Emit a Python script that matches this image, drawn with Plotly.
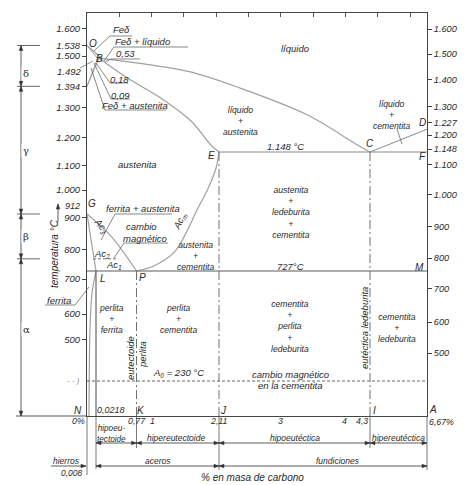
import numpy as np
import plotly.graph_objects as go

# ---------------- data ----------------
# schematic (non-linear) scales of the original drawing: value -> drawing unit
scale_c = [0, 0.0218, 0.09, 0.18, 0.53, 0.77, 1, 2.11, 3, 4, 4.3, 6.67]
scale_cu = [0, 9, 10.5, 12, 14.5, 49.5, 65, 132, 193, 257, 283, 340]
scale_t = [0, 230, 500, 600, 700, 800, 900, 1000, 1100, 1200, 1300, 1400, 1500, 1600, 1700]
scale_tu = [0, 35, 76.7, 102, 137, 166.7, 198.7, 226, 250.4, 278.7, 308.4, 331, 360, 387.7, 415.4]
scale_right_t = [0, 500, 600, 700, 800, 900, 1000, 1100, 1148, 1200, 1227, 1300, 1400, 1500, 1600, 1700]
scale_right_tu = [0, 63, 94, 127.3, 158, 189.3, 221.3, 251.3, 267, 281, 293.5, 309.3, 336.3, 362, 387, 412]

left_ticks = [1600, 1538, 1500, 1394, 1300, 1200, 1100, 1000, 900, 800, 700, 600, 500]
right_ticks = [1600, 1500, 1400, 1300, 1227, 1200, 1148, 1100, 1000, 900, 800, 700, 600, 500]
carbon_ticks = [0, 0.77, 1, 2.11, 3, 4, 4.3, 6.67]
carbon_labels = ["0%", "0,77", "1", "2,11", "3", "4", "4,3", "6,67%"]

# phase boundaries (carbon %, °C)
liq_ob_c, liq_ob_t = [0, 0.53], [1538, 1492]
liq_bc_c = [0.53, 1.60, 2.43, 3.44, 4.16, 4.3]
liq_bc_t = [1492, 1447, 1385, 1274, 1172, 1148]
liq_cd_c, liq_cd_t = [4.3, 6.67], [1148, 1227]
sol_c = [0.18, 0.71, 1.10, 1.65, 1.98, 2.11]
sol_t = [1492, 1423, 1350, 1254, 1172, 1148]
acm_c = [0.77, 1.02, 1.38, 1.76, 1.93, 2.06, 2.11]
acm_t = [727, 743, 793, 933, 1007, 1089, 1148]
ac3_c, ac3_t = [0, 0.595, 0.77], [912, 841, 727]
gp_c, gp_t = [0, 0.0218], [912, 727]
pq_c = [0.0218, 0.0121, 0.0073, 0.0048]
pq_t = [727, 659, 543, 0]
oh_c, oh_t = [0, 0.09], [1538, 1492]
nh_c, nh_t = [0, 0.09], [1394, 1492]
nj_c, nj_t = [0, 0.18], [1394, 1492]
hb_c, hb_t = [0.09, 0.53], [1492, 1492]
eutectic_c, eutectic_t = [2.11, 6.67], [1148, 1148]
eutectoid_c, eutectoid_t = [0, 6.67], [727, 727]
a0_c, a0_t = [0, 6.67], [230, 230]
a2_c, a2_t = [0.0145, 0.643], [768, 768]
v_l_c, v_l_t = [0.0218, 0.0218], [727, 0]
v_p_c, v_p_t = [0.77, 0.77], [727, 0]
v_e_c, v_e_t = [2.11, 2.11], [1148, 0]
v_c_c, v_c_t = [4.3, 4.3], [1148, 0]

W, H = 340.0, 403.0
INK = "#2a2a2a"
FONT = "Liberation Sans Narrow, Liberation Sans, Arial"


def wx(c):
    return np.interp(np.asarray(c, float), scale_c, scale_cu)


def wy(t):
    return np.interp(np.asarray(t, float), scale_t, scale_tu)


def wyr(t):
    return np.interp(np.asarray(t, float), scale_right_t, scale_right_tu)


def P(px, py):  # layout position of the drawing -> paper coords
    return ((px - 79) / W, (408 - py) / H)


def D(c, t):  # data -> paper coords
    return (float(wx(c)) / W, float(wy(t)) / H)


fig = go.Figure()


def add_line(c, t, color="#9a9a9a", width=1.2, dash="solid", shape="linear"):
    fig.add_trace(go.Scatter(x=wx(c), y=wy(t), mode="lines",
                             line=dict(color=color, width=width, dash=dash, shape=shape, smoothing=0.9),
                             hoverinfo="skip", showlegend=False))


CURVE = "#a0a0a0"
DARK = "#5a5a5a"
add_line(liq_ob_c, liq_ob_t, CURVE)
add_line(liq_bc_c, liq_bc_t, CURVE, shape="spline")
add_line(liq_cd_c, liq_cd_t, "#8a8a8a", 1.0)
add_line(sol_c, sol_t, CURVE, shape="spline")
add_line(acm_c, acm_t, CURVE, shape="spline")
add_line(ac3_c, ac3_t, CURVE, shape="spline")
add_line(gp_c, gp_t, CURVE)
add_line(pq_c, pq_t, CURVE, shape="spline")
for c, t in [(oh_c, oh_t), (nh_c, nh_t), (nj_c, nj_t), (hb_c, hb_t)]:
    add_line(c, t, CURVE, 1.0)
add_line(eutectic_c, eutectic_t, "#8a8a8a", 1.1)
add_line(eutectoid_c, eutectoid_t, DARK, 1.1)
add_line(a0_c, a0_t, "#555555", 0.9, dash="3px,2px")
add_line(a2_c, a2_t, "#666666", 0.9, dash="3px,2px")
add_line(v_l_c, v_l_t, DARK, 1.1)
for c, t in [(v_p_c, v_p_t), (v_e_c, v_e_t), (v_c_c, v_c_t)]:
    add_line(c, t, "#707070", 1.0, dash="9px,3px,2px,3px")

# dummy trace to activate top and right axes
fig.add_trace(go.Scatter(x=[0], y=[0], xaxis="x2", yaxis="y2", mode="markers",
                         marker=dict(opacity=0), hoverinfo="skip", showlegend=False))

ann = []
shapes = []


def txt(px, py, text, size=9.5, angle=0, xanchor="center", color=INK, italic=True, family=FONT):
    x, y = P(px, py)
    if italic:
        text = "<i>" + text.replace("<br>", "</i><br><i>") + "</i>"
    ann.append(dict(x=x, y=y, xref="paper", yref="paper", text=text, showarrow=False,
                    xanchor=xanchor, yanchor="middle", textangle=angle,
                    font=dict(size=size, color=color, family=family)))


def txt_data(c, py, text, **kw):
    px = float(wx(c)) + 79
    txt(px, py, text, **kw)


def stack(px, pys, lines, size=8.6):
    txt(px, sum(pys) / len(pys), "<br>".join(lines), size=size)


def poly(points, color="#6a6a6a", width=0.8, dash="solid"):
    path = "M " + " L ".join(f"{x:.5f},{y:.5f}" for x, y in points)
    shapes.append(dict(type="path", path=path, xref="paper", yref="paper",
                       line=dict(color=color, width=width, dash=dash)))


def seg(p0, p1, color="#444444", width=0.9):
    shapes.append(dict(type="line", x0=p0[0], y0=p0[1], x1=p1[0], y1=p1[1], xref="paper", yref="paper",
                       line=dict(color=color, width=width)))


def head(tip, tail, color="#333333", length=5.0, half=1.8):
    # filled arrowhead at tip, pointing away from tail (computed in pixels)
    dx = (tip[0] - tail[0]) * W
    dy = (tip[1] - tail[1]) * H
    n = (dx * dx + dy * dy) ** 0.5
    ux, uy = dx / n, dy / n
    bx, by = -ux * length, -uy * length
    px_, py_ = -uy * half, ux * half
    pts = [tip,
           (tip[0] + (bx + px_) / W, tip[1] + (by + py_) / H),
           (tip[0] + (bx - px_) / W, tip[1] + (by - py_) / H)]
    path = "M " + " L ".join(f"{x:.5f},{y:.5f}" for x, y in pts) + " Z"
    shapes.append(dict(type="path", path=path, xref="paper", yref="paper",
                       line=dict(color=color, width=0.5), fillcolor=color))


def arrow(tip, tail, color="#333333", width=0.8):
    seg(tail, tip, color=color, width=width)
    head(tip, tail, color=color)


def dim(a, b):
    seg(a, b, color="#333333", width=0.8)
    head(a, b)
    head(b, a)


# ---- region labels ----
txt(287, 41, "líquido")
stack(232, [104, 113, 122], ["líquido", "+", "austenita"])
txt(129, 156, "austenita")
stack(383, [99, 107, 116], ["líquido", "+", "cementita"])
txt(277, 138, "1.148 °C")
stack(283, [187, 196, 204, 213, 222], ["austenita", "+", "ledeburita", "+", "cementita"])
stack(187, [239, 248, 257], ["austenita", "+", "cementita"])
txt(282, 258, "727°C")
stack(103, [303, 311, 320], ["perlita", "+", "ferrita"])
stack(170, [303, 311, 319], ["perlita", "+", "cementita"])
stack(282, [301, 310, 318, 327, 335], ["cementita", "+", "perlita", "+", "ledeburita"])
stack(389, [311, 320, 328], ["cementita", "+", "ledeburita"])
txt(122, 350, "eutectoide", angle=-90)
txt(134, 347, "perlita", angle=-90)
txt(356, 320, "eutéctica ledeburita", angle=-90)
txt(170, 365, "A<sub>0</sub> = 230 °C")
txt(282, 366, "cambio magnético")
txt(282, 377, "en la cementita")

# point letters
for s, px, py in [("O", 85, 35), ("B", 91, 50), ("G", 84, 195), ("E", 203, 147), ("C", 362, 135),
                  ("D", 414, 114), ("F", 414, 148), ("M", 411, 259), ("L", 95, 270), ("P", 134, 269),
                  ("N", 70, 402), ("K", 133, 402), ("J", 215, 402), ("I", 366, 402), ("A", 425, 401)]:
    txt(px, py, s, size=10)
txt(103, 402, "0,0218", size=9)

# Ac labels
txt(93, 218, "Ac<sub>3</sub>", angle=52)
txt(172, 213, "Ac<sub>m</sub>", angle=-62)
txt(94, 246, "Ac<sub>2</sub>")
txt(106, 257, "Ac<sub>1</sub>")

# leader labels
txt(113, 21, "Feδ")
txt(134, 33, "Feδ + líquido")
txt(117, 46, "0,53")
txt(111, 71, "0,18")
txt(112, 87, "0,09")
txt(127, 98, "Feδ + austenita")
txt(75, 63, "1.492", xanchor="right")
txt(74, 198, "912", xanchor="right", size=9)
txt(135, 200, "ferrita + austenita")
txt(133, 218, "cambio")
txt(137, 230, "magnético")
txt(51, 292, "ferrita")
txt(65, 372, "‐ ‐ )", size=8, color="#888888")

poly([P(86, 43), P(102, 28), P(124, 28)])
poly([P(96, 53), P(106, 39), P(180, 39)])
poly([P(97, 54), P(103, 51), P(132, 51)])
poly([P(88, 55), P(102, 75), P(120, 75)])
poly([P(86, 55), P(103, 91), P(122, 91)])
poly([P(83, 60), P(97, 102), P(158, 102)])
poly([P(72, 60), P(85, 53)])
poly([P(93, 232), P(107, 206), P(164, 206)])
poly([P(106, 250), P(116, 235), P(160, 235)])
poly([P(37, 297), P(67, 297), P(81, 279)])
poly([P(389, 121), P(394, 136)])

# ---- bottom carbon labels ----
for c, s in zip(carbon_ticks, carbon_labels):
    if s in ("0%", "4,3"):
        txt_data(c, 413, s, size=8.8, xanchor="right")
    elif s == "6,67%":
        txt_data(c, 414, s, size=8.8, xanchor="left")
    else:
        txt_data(c, 413, s, size=8.8)

# extension lines below the axis
for c, py in [(0, 467), (0.0218, 461), (0.77, 440), (2.11, 462), (4.3, 440), (6.67, 462)]:
    x0 = D(c, 0)[0]
    seg((x0, 0), (x0, P(0, py)[1]), color="#555555", width=0.8)
seg(P(8, 408), P(79, 408), color="#444444", width=0.9)

# dimension rows
y1 = P(0, 435)[1]
for a, b in [(0.0218, 0.77), (0.77, 2.11), (2.11, 4.3), (4.3, 6.67)]:
    dim((D(a, 0)[0], y1), (D(b, 0)[0], y1))
txt(103, 426, "hipoeu-<br>tectoide", size=8.2)
txt(168, 430, "hipereutectoide", size=8.5)
txt(287, 430, "hipoeutéctica", size=8.5)
txt(390, 430, "hipereutéctica", size=8.5)

y2 = P(0, 458)[1]
arrow((D(0, 0)[0] - 0.003, y2), (P(43, 458)[0], y2))
dim((D(0.0218, 0)[0], y2), (D(2.11, 0)[0], y2))
dim((D(2.11, 0)[0], y2), (D(6.67, 0)[0], y2))
txt(58, 453, "hierros", size=8.5)
txt(64, 465, "0,008", size=8.5)
txt(150, 453, "aceros", size=8.5)
txt(330, 453, "fundiciones", size=8.5)
txt(244, 470, "% en masa de carbono", size=10)

# ---- left phase dimension (δ, γ, β, α) ----
xg = P(13, 0)[0]
bounds = [1538, 1394, 912, 768]
for t in bounds:
    yb = D(0, t)[1]
    seg((P(9, 0)[0], yb), (P(32, 0)[0], yb), color="#444444", width=0.8)
for a, b in [(1538, 1394), (1394, 912), (912, 768), (768, 0)]:
    dim((xg, D(0, a)[1]), (xg, D(0, b)[1]))
for s, a, b in [("δ", 1538, 1394), ("γ", 1394, 912), ("β", 912, 768), ("α", 768, 0)]:
    ym = (D(0, a)[1] + D(0, b)[1]) / 2
    ann.append(dict(x=xg, y=ym, xref="paper", yref="paper", text=s, showarrow=False,
                    font=dict(size=10, color=INK, family="DejaVu Serif"), bgcolor="white", borderpad=1))

# temperature title
txt(46, 246, "temperatura °C", size=10, angle=-90)
arrow(P(50, 196), P(50, 214))

fmt = lambda t: "<i>" + f"{t:,}".replace(",", ".") + "</i>"
tickfont = dict(size=9.5, color=INK, family=FONT)
rtickfont = dict(size=9.2, color=INK, family=FONT)

fig.update_layout(
    width=474, height=485, autosize=False,
    margin=dict(l=79, r=55, t=5, b=77, pad=0),
    paper_bgcolor="white", plot_bgcolor="white",
    showlegend=False,
    xaxis=dict(range=[0, W], showgrid=False, zeroline=False, showline=True, mirror=True,
               linecolor="#444444", linewidth=1, ticks="", showticklabels=False, fixedrange=True),
    yaxis=dict(range=[0, H], showgrid=False, zeroline=False, showline=True, mirror=True,
               linecolor="#444444", linewidth=1, ticks="outside", ticklen=4, tickcolor="#444444",
               tickvals=list(wy(left_ticks)), ticktext=[fmt(t) for t in left_ticks],
               tickfont=tickfont, fixedrange=True),
    xaxis2=dict(range=[0, W], overlaying="x", side="top", showgrid=False, zeroline=False,
                showline=False, ticks="inside", ticklen=4, tickcolor="#555555",
                tickvals=[32.3 * k for k in range(1, 11)], showticklabels=False, fixedrange=True),
    yaxis2=dict(range=[0, H], overlaying="y", side="right", showgrid=False, zeroline=False,
                showline=False, ticks="outside", ticklen=4, tickcolor="#444444",
                tickvals=list(wyr(right_ticks)), ticktext=[fmt(t) for t in right_ticks],
                tickfont=rtickfont, fixedrange=True),
    annotations=ann, shapes=shapes,
)

fig.write_html("out.html")
